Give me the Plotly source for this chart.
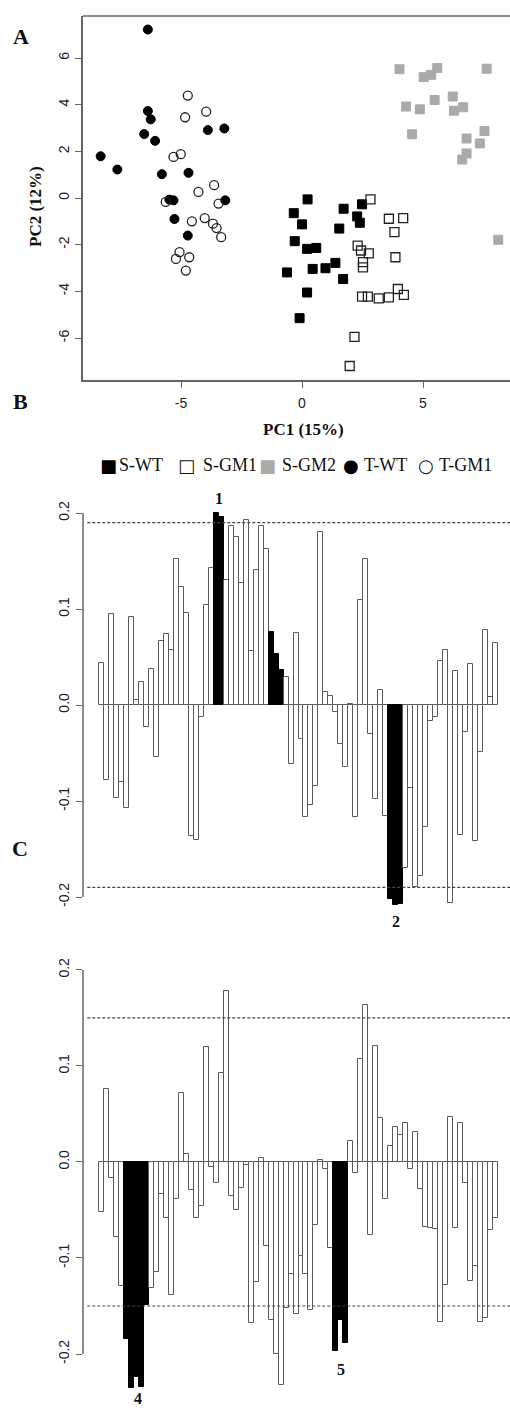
import plotly.graph_objects as go

W, H = 510, 1411

# ---------------- Panel A: PCA scores ----------------
twt_x = [-6.37, -8.32, -7.63, -6.37, -6.25, -6.52, -6.07, -5.79, -4.69, -3.89, -3.21, -5.48, -5.31, -3.17, -5.27, -4.72]
twt_y = [7.22, 1.79, 1.22, 3.73, 3.37, 2.74, 2.45, 1.02, 1.08, 2.91, 2.98, -0.07, -0.10, -0.10, -0.90, -1.61]

tgm1_x = [-4.72, -4.83, -3.96, -5.31, -5.01, -4.28, -3.63, -5.63, -3.45, -4.55, -4.02, -3.68, -3.53, -3.34, -5.06, -5.21, -4.66, -4.80]
tgm1_y = [4.39, 3.46, 3.70, 1.76, 1.88, 0.26, 0.55, -0.17, -0.24, -1.00, -0.86, -1.10, -1.29, -1.68, -2.32, -2.61, -2.54, -3.11]

swt_x = [0.23, -0.34, 0.00, 1.72, 2.48, 2.28, 2.39, 1.54, -0.30, 0.21, 0.59, -0.62, 0.44, 0.97, 1.38, 1.70, 0.21, -0.10]
swt_y = [-0.06, -0.65, -1.13, -0.46, -0.27, -0.79, -1.06, -1.31, -1.85, -2.18, -2.14, -3.19, -3.04, -3.01, -2.78, -3.47, -4.05, -5.15]

sgm1_x = [2.83, 3.59, 4.18, 3.82, 2.30, 2.44, 2.76, 2.52, 2.52, 3.86, 2.48, 2.72, 3.17, 3.59, 3.96, 4.21, 2.17, 1.97]
sgm1_y = [-0.06, -0.89, -0.86, -1.46, -2.04, -2.25, -2.37, -2.75, -2.97, -2.54, -4.23, -4.23, -4.30, -4.26, -3.90, -4.15, -5.95, -7.20]

sgm2_x = [4.03, 5.03, 5.34, 5.59, 7.63, 4.30, 4.87, 5.48, 6.23, 6.28, 6.66, 4.55, 6.80, 7.54, 7.35, 6.80, 6.62, 8.11]
sgm2_y = [5.52, 5.18, 5.28, 5.57, 5.54, 3.92, 3.80, 4.20, 4.35, 3.74, 3.89, 2.73, 2.55, 2.87, 2.34, 1.91, 1.65, -1.79]

a_xticks = [-5, 0, 5]
a_yticks = [-6, -4, -2, 0, 2, 4, 6]

# ---------------- Panel B: PC1 loadings ----------------
b_vals = [0.044, -0.078, 0.095, -0.097, -0.080, -0.107, 0.092, 0.005, 0.024, -0.023,
          0.037, -0.054, 0.067, 0.074, 0.057, 0.152, 0.123, 0.096, -0.136, -0.141,
          -0.013, 0.104, 0.143, 0.200, 0.196, 0.130, 0.186, 0.175, 0.127, 0.193,
          0.056, 0.141, 0.186, 0.162, 0.076, 0.053, 0.036, 0.029, -0.061, 0.075,
          -0.035, -0.117, -0.104, -0.084, 0.180, 0.014, 0.009, -0.007, -0.041, -0.065,
          0.001, -0.117, 0.109, 0.152, -0.030, -0.098, 0.016, -0.116, -0.202, -0.208,
          -0.207, -0.170, -0.086, -0.190, -0.178, -0.127, -0.017, -0.012, 0.046, 0.057,
          -0.206, 0.035, -0.135, -0.028, 0.043, -0.142, -0.049, 0.078, 0.008, 0.065]
b_black = [23, 24, 34, 35, 36, 58, 59, 60]
b_cut = 0.19

# ---------------- Panel C: PC2 loadings ----------------
c_vals = [-0.052, 0.076, -0.017, -0.078, -0.129, -0.184, -0.235, -0.224, -0.234, -0.149,
          -0.131, -0.115, -0.033, -0.058, -0.139, -0.039, 0.072, 0.008, -0.029, -0.058,
          -0.046, 0.120, -0.005, -0.022, 0.093, 0.178, -0.035, -0.050, -0.027, -0.003,
          -0.168, -0.125, 0.004, -0.087, -0.165, -0.200, -0.232, -0.152, -0.117, -0.158,
          -0.098, -0.117, -0.154, -0.066, 0.002, -0.007, -0.090, -0.197, -0.165, -0.189,
          0.022, -0.011, 0.107, 0.163, -0.076, 0.121, 0.046, -0.039, 0.017, 0.036,
          0.028, 0.041, -0.007, 0.031, -0.028, -0.068, -0.069, -0.070, -0.167, -0.128,
          0.047, -0.069, 0.041, -0.022, -0.124, -0.108, -0.167, -0.162, -0.071, -0.058]
c_black = [5, 6, 7, 8, 9, 47, 48, 49]
c_cut = 0.15

load_ticks = [-0.2, -0.1, 0.0, 0.1, 0.2]
load_ticktext = ["-0.2", "-0.1", "0.0", "0.1", "0.2"]

legend_names = ["S-WT", "S-GM1", "S-GM2", "T-WT", "T-GM1"]


def xd(l, r):
    return [l / W, min(r / W, 1.0)]


def yd(top, bot):
    return [1 - bot / H, 1 - top / H]


def py(p):
    return 1 - p / H


def px(p):
    return p / W


AX = "#666666"
TICKFONT = dict(family="Liberation Sans, Arial, sans-serif", size=14, color="#222222")
SERIF = "Liberation Serif, Times New Roman, serif"
SYMF = "DejaVu Sans, sans-serif"

fig = go.Figure()

mk = dict(size=9)
fig.add_trace(go.Scatter(x=swt_x, y=swt_y, mode="markers", name=legend_names[0],
                         marker=dict(symbol="square", color="black", line=dict(color="black", width=1), **mk),
                         xaxis="x", yaxis="y"))
fig.add_trace(go.Scatter(x=sgm1_x, y=sgm1_y, mode="markers", name=legend_names[1],
                         marker=dict(symbol="square-open", color="#222222", line=dict(width=1.3), **mk),
                         xaxis="x", yaxis="y"))
fig.add_trace(go.Scatter(x=sgm2_x, y=sgm2_y, mode="markers", name=legend_names[2],
                         marker=dict(symbol="square", color="#aaaaaa", line=dict(color="#aaaaaa", width=1), **mk),
                         xaxis="x", yaxis="y"))
fig.add_trace(go.Scatter(x=twt_x, y=twt_y, mode="markers", name=legend_names[3],
                         marker=dict(symbol="circle", color="black", line=dict(color="black", width=1), **mk),
                         xaxis="x", yaxis="y"))
fig.add_trace(go.Scatter(x=tgm1_x, y=tgm1_y, mode="markers", name=legend_names[4],
                         marker=dict(symbol="circle-open", color="#222222", line=dict(width=1.3), **mk),
                         xaxis="x", yaxis="y"))


def bar_trace(vals, black, xa, ya):
    xs = list(range(len(vals)))
    fill = ["black" if i in black else "white" for i in xs]
    line = ["black" if i in black else "#5a5a5a" for i in xs]
    return go.Bar(x=xs, y=vals, width=1.0, marker=dict(color=fill, line=dict(color=line, width=1)),
                  xaxis=xa, yaxis=ya, showlegend=False)


fig.add_trace(bar_trace(b_vals, b_black, "x2", "y2"))
fig.add_trace(bar_trace(c_vals, c_black, "x3", "y3"))

# bar x range: bar i centred at i, first bar left edge at pixel 99, ~4.99 px per bar
ppb = 399.0 / 80
bx0 = -0.5 - (99 - 83) / ppb
bx1 = -0.5 + (W - 99) / ppb

# panel A x range: -5 at px 181, 24.2 px per unit, axis from px 83 to the right edge
a_ppu = 24.2
ax0 = -5 - (181 - 83) / a_ppu
ax1 = -5 + (W - 181) / a_ppu

fig.update_layout(
    width=W, height=H, autosize=False,
    margin=dict(l=0, r=0, t=0, b=0),
    paper_bgcolor="white", plot_bgcolor="white",
    showlegend=False, bargap=0,
    xaxis=dict(domain=xd(83, W), range=[ax0, ax1], tickvals=a_xticks,
               ticktext=[str(t) for t in a_xticks], ticks="outside", ticklen=6, tickcolor=AX,
               showline=True, linecolor=AX, linewidth=1.5, mirror=False, showgrid=False, zeroline=False,
               tickfont=TICKFONT, ticklabelstandoff=3),
    yaxis=dict(domain=yd(16, 380), range=[-7.8, 7.8], tickvals=a_yticks,
               ticktext=[str(t) for t in a_yticks], ticks="outside", ticklen=6, tickcolor=AX,
               showline=True, linecolor=AX, linewidth=1.5, mirror=False, showgrid=False, zeroline=False,
               tickfont=TICKFONT, tickangle=-90, ticklabelstandoff=1),
    xaxis2=dict(domain=xd(83, W), range=[bx0, bx1], visible=False, fixedrange=True),
    yaxis2=dict(domain=yd(495, 915), range=[-0.21875, 0.21875], tickvals=load_ticks,
                ticktext=load_ticktext, ticks="outside", ticklen=6, tickcolor=AX, showline=False,
                showgrid=False, zeroline=False, tickfont=TICKFONT, tickangle=-90, ticklabelstandoff=1,
                anchor="x2"),
    xaxis3=dict(domain=xd(83, W), range=[bx0, bx1], visible=False, fixedrange=True),
    yaxis3=dict(domain=yd(950, 1394), range=[-(1394 - 1162) / 960.0, 0.2208], tickvals=load_ticks,
                ticktext=load_ticktext, ticks="outside", ticklen=6, tickcolor=AX, showline=False,
                showgrid=False, zeroline=False, tickfont=TICKFONT, tickangle=-90, ticklabelstandoff=1,
                anchor="x3"),
)

shapes = [dict(type="line", xref="x domain", yref="y domain", x0=0, x1=1, y0=1, y1=1,
               line=dict(color=AX, width=1.5))]
for ax, ya, cut in (("x2", "y2", b_cut), ("x3", "y3", c_cut)):
    shapes.append(dict(type="line", xref=ax + " domain", yref=ya, x0=0, x1=0, y0=-0.2, y1=0.2,
                       line=dict(color=AX, width=1.5)))
    for s in (cut, -cut):
        shapes.append(dict(type="line", xref=ax + " domain", yref=ya, x0=0.01, x1=1, y0=s, y1=s,
                           line=dict(color="#444444", width=1.2, dash="3px,2px")))
fig.update_layout(shapes=shapes)

ann = []


def label(text, x, y, size, bold=True, angle=0, xref="paper", color="#111111", family=SERIF):
    t = "<b>%s</b>" % text if bold else text
    ann.append(dict(text=t, x=x, y=y, xref=xref, yref="paper", showarrow=False, textangle=angle,
                    xanchor="center", yanchor="middle", font=dict(family=family, size=size, color=color)))


label("A", px(21), py(36), 22)
label("B", px(20), py(401), 22)
label("C", px(20), py(848), 22)
label("PC2 (12%)", px(35), py(207), 17, angle=-90)
label("PC1 (15%)", px(303), py(429), 17)

# legend line (symbol glyphs + names)
leg_items = [("■", "black", 108), (legend_names[0], "#111111", 141),
             ("□", "#111111", 186), (legend_names[1], "#111111", 230),
             ("■", "#aaaaaa", 267), (legend_names[2], "#111111", 309),
             ("●", "black", 351), (legend_names[3], "#111111", 385),
             ("○", "#111111", 426), (legend_names[4], "#111111", 465)]
for txt, col, xc in leg_items:
    if txt in legend_names:
        label(txt, px(xc), py(465), 18, bold=False, color=col)
    else:
        label(txt, px(xc), py(465), 18, bold=False, color=col, family=SYMF)

label("1", 23.5, py(498), 16, xref="x2")
label("2", 59, py(921), 16, xref="x2")
label("4", 7.3, py(1398), 16, xref="x3")
label("5", 48, py(1369), 16, xref="x3")

fig.update_layout(annotations=ann)

fig.write_html("out.html", config={"displayModeBar": False},
               post_script="document.body.style.margin='0';document.body.style.overflow='hidden';")
